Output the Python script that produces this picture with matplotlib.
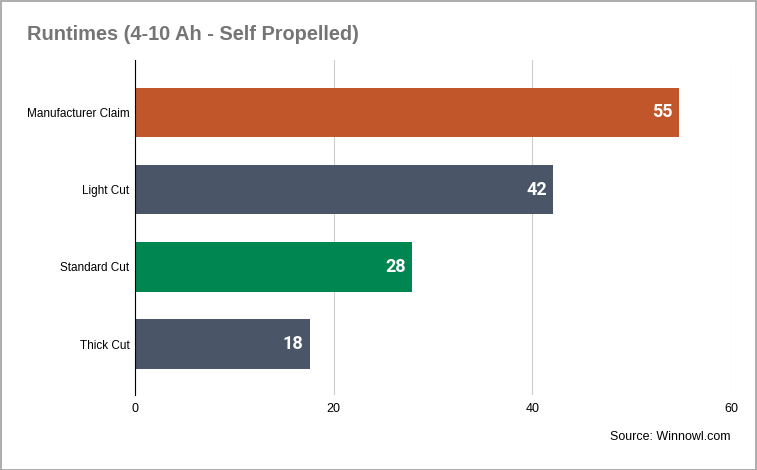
import matplotlib.pyplot as plt
from matplotlib.patches import Rectangle

# data
categories = ["Manufacturer Claim", "Light Cut", "Standard Cut", "Thick Cut"]
runtimes = [54.8, 42.1, 27.9, 17.6]
labels = ["55", "42", "28", "18"]
colors = ["#C0562A", "#4A5568", "#008751", "#4A5568"]
xticks = [0, 20, 40, 60]

plt.rcParams['font.family'] = ['Liberation Sans', 'DejaVu Sans']

fig = plt.figure(figsize=(7.57, 4.70), dpi=100)
ax = fig.add_axes([135/757, 1 - 395/470, (731 - 135)/757, (395 - 60)/470])

ypos = list(range(len(categories)))
ax.barh(ypos, runtimes, height=0.64, color=colors, zorder=3)

for y, v, lab in zip(ypos, runtimes, labels):
    ax.text(v - 0.65, y, lab, ha='right', va='center', color='white',
            fontsize=13, fontweight='bold', family=['Roboto', 'DejaVu Sans'], zorder=4)

ax.set_xlim(0, 60)
ax.set_ylim(3.66, -0.68)
ax.set_yticks(ypos)
ax.set_yticklabels(categories, fontsize=8.5)
ax.set_xticks(xticks)
ax.set_xticklabels([str(t) for t in xticks], fontsize=9)
ax.tick_params(axis='x', length=0, pad=6)
ax.tick_params(axis='y', length=0, pad=4)

ax.grid(axis='x', color='#CCCCCC', linewidth=0.8, zorder=0)
for s in ['top', 'right', 'bottom']:
    ax.spines[s].set_visible(False)
ax.spines['left'].set_color('#000000')
ax.spines['left'].set_linewidth(0.8)
ax.spines['left'].set_zorder(5)

fig.text(27/757, 1 - 35/470, "Runtimes (4-10 Ah - Self Propelled)", fontsize=14.4,
         fontweight='bold', color='#757575', va='center', ha='left')
fig.text(731/757, 1 - 437/470, "Source: Winnowl.com", fontsize=9,
         color='#000000', ha='right', va='center')

# border around the figure
fig.patches.append(Rectangle((0.5/757, 0.5/470), 1 - 1.5/757, 1 - 1.5/470,
                             transform=fig.transFigure, fill=False,
                             edgecolor='#9E9E9E', linewidth=1.2))

fig.savefig("out.png", dpi=100)
